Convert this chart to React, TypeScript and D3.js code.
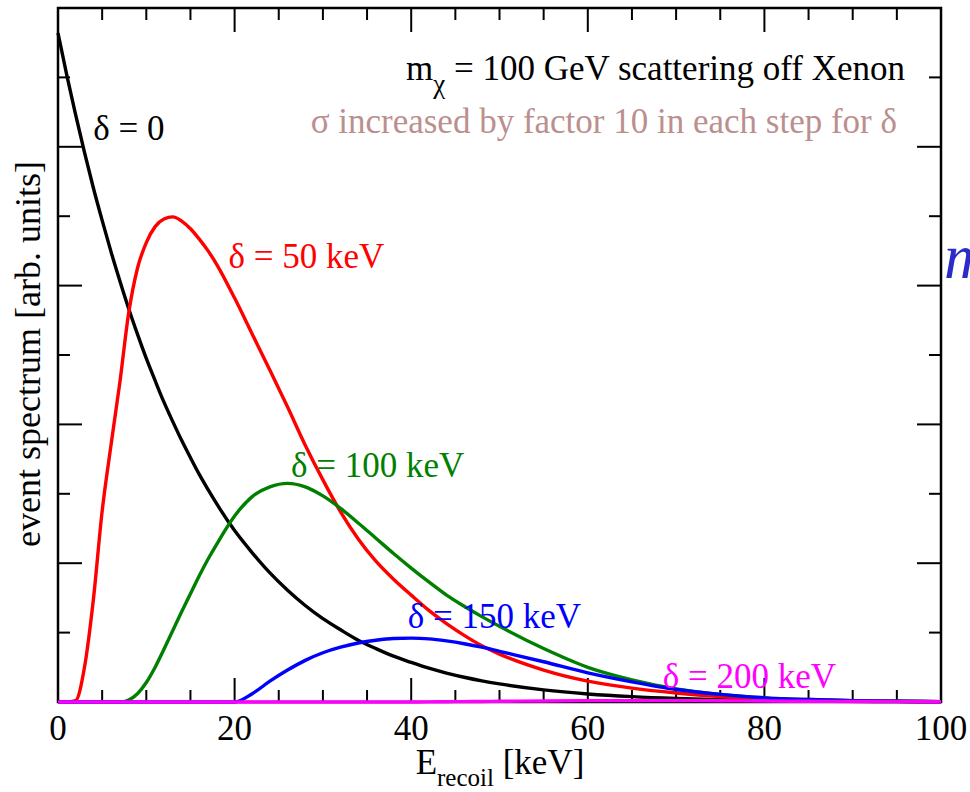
import React from "react";
import * as d3 from "d3";

// Recoil energy grid [keV]
const energy = [0, 1, 2, 3, 4, 5, 6, 7, 8, 9, 10, 11, 12, 13, 14, 15, 16, 17, 18, 20, 22, 24, 26, 28, 30, 32, 34, 36, 38, 40, 42, 44, 46, 48, 50, 55, 60, 65, 70, 75, 80, 85, 90, 95, 100];

// Event spectra (arb. units) for each mass splitting delta
const delta0 = [9.64, 9.03, 8.46, 7.92, 7.41, 6.94, 6.49, 6.07, 5.67, 5.3, 4.95, 4.63, 4.32, 4.04, 3.77, 3.52, 3.28, 3.06, 2.85, 2.47, 2.15, 1.86, 1.61, 1.39, 1.2, 1.04, 0.89, 0.77, 0.66, 0.57, 0.487, 0.417, 0.357, 0.305, 0.261, 0.175, 0.116, 0.077, 0.051, 0.033, 0.021, 0.014, 0.009, 0.006, 0.003];
const delta50 = [0, 0, 0.02, 0.5, 1.47, 2.75, 3.7, 4.6, 5.6, 6.25, 6.62, 6.85, 6.96, 6.99, 6.93, 6.82, 6.67, 6.5, 6.3, 5.82, 5.3, 4.78, 4.25, 3.7, 3.2, 2.74, 2.35, 2.03, 1.77, 1.54, 1.32, 1.13, 0.96, 0.81, 0.69, 0.46, 0.3, 0.2, 0.13, 0.08, 0.05, 0.03, 0.02, 0.01, 0.006];
const delta100 = [0, 0, 0, 0, 0, 0, 0, 0, 0.03, 0.12, 0.28, 0.5, 0.76, 1.03, 1.3, 1.56, 1.82, 2.06, 2.28, 2.68, 2.96, 3.1, 3.15, 3.1, 2.97, 2.79, 2.58, 2.36, 2.14, 1.93, 1.73, 1.54, 1.38, 1.23, 1.09, 0.77, 0.5, 0.32, 0.19, 0.11, 0.06, 0.035, 0.02, 0.01, 0.005];
const delta150 = [0, 0, 0, 0, 0, 0, 0, 0, 0, 0, 0, 0, 0, 0, 0, 0, 0, 0, 0, 0, 0.12, 0.3, 0.46, 0.6, 0.71, 0.79, 0.85, 0.89, 0.915, 0.92, 0.91, 0.88, 0.84, 0.79, 0.73, 0.58, 0.42, 0.29, 0.18, 0.11, 0.06, 0.035, 0.02, 0.01, 0.005];
const delta200 = [0, 0, 0, 0, 0, 0, 0, 0, 0, 0, 0, 0, 0, 0, 0, 0, 0, 0, 0, 0, 0, 0, 0, 0, 0, 0, 0, 0, 0, 0, 0.002, 0.004, 0.006, 0.008, 0.01, 0.015, 0.02, 0.02, 0.02, 0.018, 0.015, 0.01, 0.008, 0.005, 0.003];

const seriesColors = ["#000000", "#ff0000", "#008000", "#0000ff", "#ff00ff"];
const seriesLabels = ["δ = 0", "δ = 50 keV", "δ = 100 keV", "δ = 150 keV", "δ = 200 keV"];
// label anchor points in data units [keV, arb.]
const labelX = [4.0, 19.3, 26.4, 39.6, 68.5];
const labelY = [8.1, 6.255, 3.24, 1.06, 0.2];

const xTickLabels = [0, 20, 40, 60, 80, 100];

const W = 970;
const H = 792;
const left = 58;
const right = 941;
const top = 8;
const bottom = 702;
const FONT = "Liberation Serif, Times New Roman, DejaVu Serif, serif";
const FS = 35;

export default function App() {
  const x = d3.scaleLinear().domain([0, 100]).range([left, right]);
  const y = d3.scaleLinear().domain([0, 10]).range([bottom, top]);
  const line = d3
    .line<number>()
    .x((_, i) => x(energy[i]))
    .y((d) => y(d))
    .curve(d3.curveMonotoneX);

  const series = [delta0, delta50, delta100, delta150, delta200];

  const xMinor = d3.range(0, 101, 5);
  const yMinor = d3.range(0, 11, 1);

  return (
    <svg
      width={W}
      height={H}
      style={{ position: "absolute", left: 0, top: 0, background: "#fff", fontFamily: FONT }}
    >
      <rect x={0} y={0} width={W} height={H} fill="#fff" />
      {/* tick marks on all four sides, pointing inward */}
      <g stroke="#000" strokeWidth={2}>
        {xMinor.map((v) => {
          const len = v % 20 === 0 ? 24 : 12;
          return (
            <g key={"xt" + v}>
              <line x1={x(v)} x2={x(v)} y1={bottom} y2={bottom - len} />
              <line x1={x(v)} x2={x(v)} y1={top} y2={top + len} />
            </g>
          );
        })}
        {yMinor.map((v) => {
          const len = v % 2 === 0 ? 24 : 12;
          return (
            <g key={"yt" + v}>
              <line x1={left} x2={left + len} y1={y(v)} y2={y(v)} />
              <line x1={right} x2={right - len} y1={y(v)} y2={y(v)} />
            </g>
          );
        })}
      </g>
      <rect
        x={left}
        y={top}
        width={right - left}
        height={bottom - top}
        fill="none"
        stroke="#000"
        strokeWidth={2.5}
      />
      {series.map((s, i) => (
        <path
          key={"s" + i}
          d={line(s) || ""}
          fill="none"
          stroke={seriesColors[i]}
          strokeWidth={3.4}
          strokeLinejoin="round"
        />
      ))}
      {seriesLabels.map((t, i) => (
        <text
          key={"l" + i}
          x={x(labelX[i])}
          y={y(labelY[i])}
          fontSize={FS}
          fill={seriesColors[i]}
        >
          {t}
        </text>
      ))}
      {/* x tick labels */}
      {xTickLabels.map((v) => (
        <text key={"xl" + v} x={x(v)} y={740} fontSize={FS} textAnchor="middle" fill="#000">
          {v}
        </text>
      ))}
      {/* axis titles */}
      <text x={500} y={774} fontSize={FS} textAnchor="middle" fill="#000">
        E
        <tspan fontSize={25} dy={12}>recoil</tspan>
        <tspan dy={-12}> [keV]</tspan>
      </text>
      <text
        transform="translate(40,354) rotate(-90)"
        fontSize={36}
        textAnchor="middle"
        fill="#000"
      >
        event spectrum [arb. units]
      </text>
      {/* annotations */}
      <text x={905} y={80} fontSize={FS} textAnchor="end" fill="#000">
        m
        <tspan fontSize={27} dy={13}>χ</tspan>
        <tspan dy={-13}> = 100 GeV scattering off Xenon</tspan>
      </text>
      <text x={897} y={133} fontSize={FS} textAnchor="end" fill="#bc8f8f">
        σ increased by factor 10 in each step for δ
      </text>
      <text x={944} y={278} fontSize={64} fontStyle="italic" fill="#2b2bc8">
        m
      </text>
    </svg>
  );
}
